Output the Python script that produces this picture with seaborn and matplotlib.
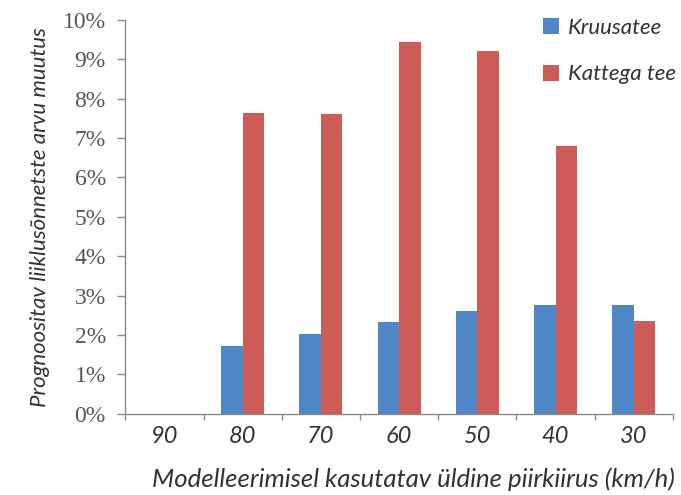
import numpy as np
import pandas as pd
import matplotlib
matplotlib.use("Agg")
import matplotlib.pyplot as plt
import seaborn as sns
from matplotlib.ticker import FixedLocator, PercentFormatter

# Speed limits used in the model (km/h)
speeds = ["90", "80", "70", "60", "50", "40", "30"]
# Predicted change in number of traffic accidents (%)
kruusatee = [0.0, 1.73, 2.03, 2.33, 2.61, 2.77, 2.77]
kattega_tee = [0.0, 7.64, 7.61, 9.44, 9.21, 6.80, 2.36]
series_names = ["Kruusatee", "Kattega tee"]
y_ticks = [0, 1, 2, 3, 4, 5, 6, 7, 8, 9, 10]

df = pd.DataFrame({
    "speed": speeds * 2,
    "value": kruusatee + kattega_tee,
    "road": [series_names[0]] * len(speeds) + [series_names[1]] * len(speeds),
})

sns.set_theme(style="white")
plt.rcParams["font.family"] = ["Lato", "DejaVu Sans"]

fig = plt.figure(figsize=(6.81, 4.95), dpi=100)
ax = fig.add_axes([0.184, 0.164, 0.804, 0.796])

palette = {"Kruusatee": "#4F86C6", "Kattega tee": "#CD5C57"}
sns.barplot(data=df, x="speed", y="value", hue="road", order=speeds,
            hue_order=series_names, palette=palette, width=0.55,
            linewidth=0, saturation=1, ax=ax)

ax.set_xlim(-0.5, len(speeds) - 0.5)
ax.set_ylim(0, 10)
ax.yaxis.set_major_locator(FixedLocator(y_ticks))
ax.yaxis.set_major_formatter(PercentFormatter(decimals=0))

axis_color = "#8a8a8a"
for side in ["top", "right"]:
    ax.spines[side].set_visible(False)
for side in ["left", "bottom"]:
    ax.spines[side].set_color(axis_color)
    ax.spines[side].set_linewidth(1.0)

# y tick labels in a serif face
for lbl in ax.get_yticklabels():
    lbl.set_fontfamily(["Liberation Serif", "DejaVu Serif"])
    lbl.set_fontsize(17)
    lbl.set_color("#555555")
ax.tick_params(axis="y", which="major", direction="out", length=6,
               width=1, color=axis_color, pad=8, left=True)

# x ticks between categories, labels at the category centres
ax.xaxis.set_minor_locator(FixedLocator(np.arange(-0.5, len(speeds), 1.0)))
ax.tick_params(axis="x", which="major", length=0, pad=9)
ax.tick_params(axis="x", which="minor", direction="out", length=4,
               width=1, color=axis_color, bottom=True)
for lbl in ax.get_xticklabels():
    lbl.set_fontstyle("italic")
    lbl.set_fontsize(17)
    lbl.set_color("#333333")

ax.set_xlabel("Modelleerimisel kasutatav üldine piirkiirus (km/h)",
              fontsize=18.5, fontstyle="italic", color="#333333")
ax.xaxis.set_label_coords(0.526, -0.167)
ax.xaxis.label.set_verticalalignment("center")
ax.set_ylabel("Prognoositav liiklusõnnetste arvu muutus",
              fontsize=16, fontstyle="italic", color="#333333", labelpad=9)

leg = ax.legend(loc="upper left", bbox_to_anchor=(0.762, 1.005), frameon=False,
                handlelength=0.75, handleheight=0.75, handletextpad=0.4,
                labelspacing=1.2, borderaxespad=0, borderpad=0,
                prop={"style": "italic", "size": 16})
for t in leg.get_texts():
    t.set_color("#333333")

fig.savefig("out.png", dpi=100, facecolor="white")
